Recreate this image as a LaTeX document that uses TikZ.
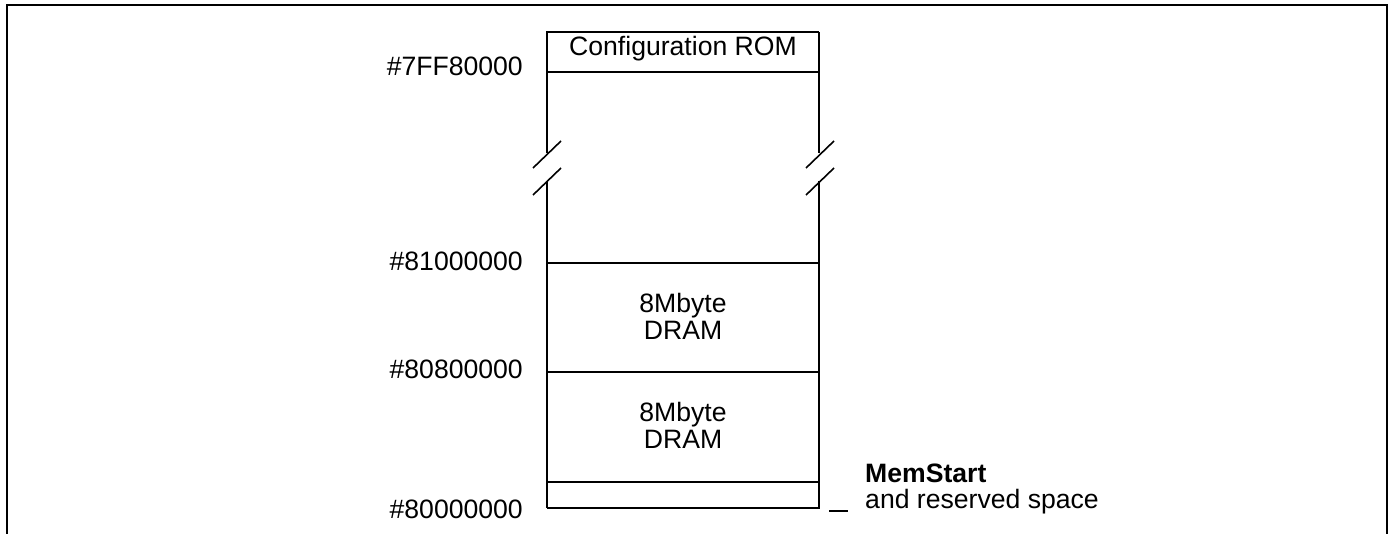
\documentclass[tikz,border=0pt]{standalone}
\usepackage{fontspec}
\setmainfont{Liberation Sans}
\begin{document}
\begin{tikzpicture}[x=1pt,y=-1pt,
  frame/.style={line width=2pt},
  boxline/.style={line width=1.8pt},
  thinline/.style={line width=1.2pt},
  thickline/.style={line width=2.2pt},
  breakmark/.style={line width=1.6pt},
  addr/.style={anchor=base east,inner sep=0pt,font=\fontsize{26.6}{28}\selectfont},
  lbl/.style={anchor=base,inner sep=0pt,font=\fontsize{26.6}{28}\selectfont},
  note/.style={anchor=base west,inner sep=0pt,font=\fontsize{26.6}{28}\selectfont}]
\useasboundingbox (0,0) rectangle (1391,533);
% frame
\draw[frame] (7,534) -- (7,5) -- (1387,5) -- (1387,534);
% box corners and break points
\coordinate (tl) at (547,32);
\coordinate (tr) at (819,32);
\coordinate (bl) at (547,508);
\coordinate (br) at (819,508);
\coordinate (lbreakA) at (547,153);
\coordinate (lbreakB) at (547,181);
\coordinate (rbreakA) at (819,153);
\coordinate (rbreakB) at (819,181);
% outline
\draw[boxline] (lbreakA) -- (tl) -- (tr);
\draw[thinline] (tr) -- (rbreakA);
\draw[boxline] (lbreakB) -- (bl);
\draw[thinline] (bl) -- (br) -- (rbreakB);
% break marks
\draw[breakmark] (533,168) -- (561,141);
\draw[breakmark] (533,195) -- (561,168);
\draw[breakmark] (806,168) -- (834,141);
\draw[breakmark] (806,195) -- (834,168);
% separators
\draw[thinline] (547,72) -- (819,72);
\draw[thinline] (547,263) -- (819,263);
\draw[thinline] (547,372) -- (819,372);
\draw[thickline] (547,482) -- (819,482);
% texts
\node[lbl] (rom) at (683,55) {Configuration ROM};
\node[addr] (a1) at (523,75) {\#7FF80000};
\node[addr] (a2) at (523,270) {\#81000000};
\node[addr] (a3) at (523,378) {\#80800000};
\node[addr] (a4) at (523,518) {\#80000000};
\node[lbl] (d1a) at (683,312) {8Mbyte};
\node[lbl] (d1b) at (683,339) {DRAM};
\node[lbl] (d2a) at (683,421) {8Mbyte};
\node[lbl] (d2b) at (683,448) {DRAM};
\node[note] (ms) at (865,482) {\bfseries MemStart};
\node[note] (rs) at (865,508) {and reserved space};
\coordinate (dashA) at (829,511);
\coordinate (dashB) at (848,511);
\draw[thickline] (dashA) -- (dashB);
\end{tikzpicture}
\end{document}
